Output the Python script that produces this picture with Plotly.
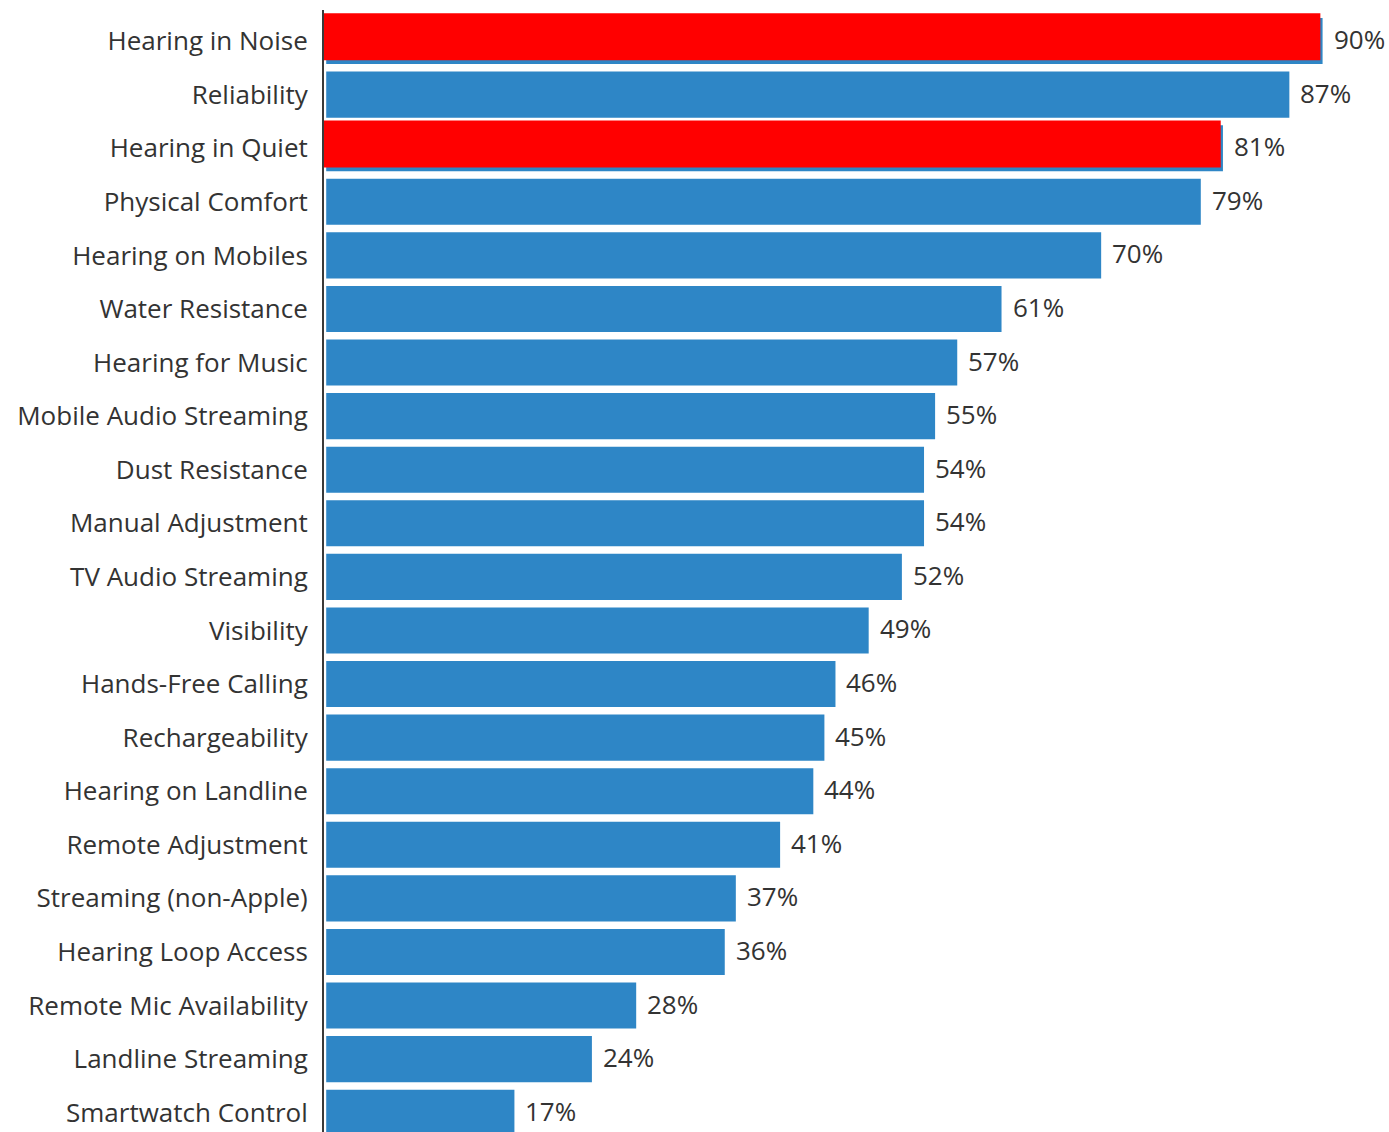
import plotly.graph_objects as go

categories = [
    "Hearing in Noise", "Reliability", "Hearing in Quiet", "Physical Comfort",
    "Hearing on Mobiles", "Water Resistance", "Hearing for Music",
    "Mobile Audio Streaming", "Dust Resistance", "Manual Adjustment",
    "TV Audio Streaming", "Visibility", "Hands-Free Calling", "Rechargeability",
    "Hearing on Landline", "Remote Adjustment", "Streaming (non-Apple)",
    "Hearing Loop Access", "Remote Mic Availability", "Landline Streaming",
    "Smartwatch Control",
]
values = [90, 87, 81, 79, 70, 61, 57, 55, 54, 54, 52, 49, 46, 45, 44, 41, 37, 36, 28, 24, 17]
highlighted = ["Hearing in Noise", "Hearing in Quiet"]

BLUE = "#2E86C6"
RED = "#FF0000"
TEXT = "#333333"
FONT = "Open Sans"
FSIZE = 26

hl_cats = [c for c in categories if c in highlighted]
hl_vals = [v for c, v in zip(categories, values) if c in highlighted]

fig = go.Figure()
fig.add_trace(go.Bar(
    y=categories, x=values, orientation="h",
    marker=dict(color=BLUE, line=dict(width=0)),
    width=0.86, hoverinfo="skip",
))
fig.add_trace(go.Bar(
    y=hl_cats, x=hl_vals, base=-0.2, orientation="h",
    marker=dict(color=RED, line=dict(width=0)),
    width=0.88, offset=-0.52, hoverinfo="skip",
))

for c, v in zip(categories, values):
    fig.add_annotation(
        x=v, y=c, text=f"{v}%", showarrow=False,
        xanchor="left", yanchor="middle", xshift=9, yshift=2,
        font=dict(family=FONT, size=FSIZE, color=TEXT),
    )

fig.update_layout(
    width=1389, height=1132,
    margin=dict(l=324, r=0, t=10, b=0, pad=0, autoexpand=False),
    paper_bgcolor="white", plot_bgcolor="white",
    barmode="overlay", showlegend=False,
    font=dict(family=FONT, size=FSIZE, color=TEXT),
    xaxis=dict(range=[-0.2, 96.0], visible=False, fixedrange=True, automargin=False),
    yaxis=dict(
        type="category", categoryorder="array", categoryarray=categories,
        range=[20.36, -0.58], showgrid=False, zeroline=False, automargin=False,
        fixedrange=True,
        showline=True, linecolor="#3a3a3a", linewidth=2, layer="below traces",
        ticks="", ticklabelstandoff=9,
        tickfont=dict(family=FONT, size=FSIZE, color=TEXT),
    ),
)

fig.write_html(
    "out.html",
    config={"displayModeBar": False, "staticPlot": True},
    post_script="document.body.style.margin='0';document.body.style.overflow='hidden';",
)
